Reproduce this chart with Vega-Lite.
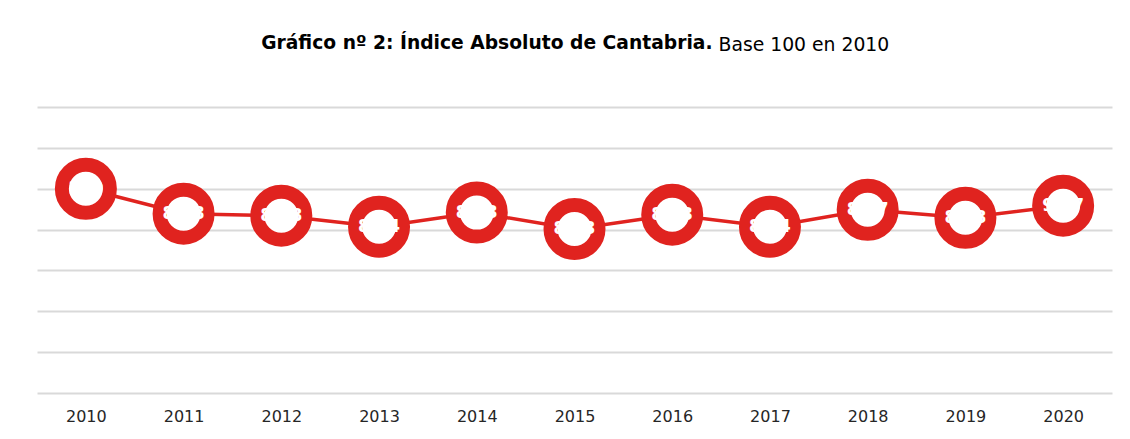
{
  "$schema": "https://vega.github.io/schema/vega-lite/v6.json",
  "width": 1075,
  "height": 286,
  "autosize": {"type": "none"},
  "padding": {"left": 37, "top": 107, "right": 18, "bottom": 46},
  "background": "white",
  "title": {
    "text": "Gráfico nº 2: Índice Absoluto de Cantabria.",
    "anchor": "middle",
    "align": "right",
    "dx": 138,
    "offset": -18,
    "font": "DejaVu Sans",
    "fontSize": 18.7,
    "fontWeight": "bold",
    "color": "#000000"
  },
  "config": {"view": {"stroke": null}},
  "data": {
    "values": [
      {"year": "2010", "value": 100.0},
      {"year": "2011", "value": 87.8},
      {"year": "2012", "value": 86.8},
      {"year": "2013", "value": 81.4},
      {"year": "2014", "value": 88.3},
      {"year": "2015", "value": 80.3},
      {"year": "2016", "value": 87.3},
      {"year": "2017", "value": 81.4},
      {"year": "2018", "value": 89.7},
      {"year": "2019", "value": 85.8},
      {"year": "2020", "value": 91.7}
    ]
  },
  "encoding": {
    "x": {
      "field": "year",
      "type": "ordinal",
      "scale": {"type": "point", "padding": 0.5},
      "axis": {
        "title": null,
        "domain": false,
        "ticks": false,
        "labelAngle": 0,
        "labelFont": "DejaVu Sans",
        "labelFontSize": 16,
        "labelColor": "#262626",
        "labelPadding": 15
      }
    },
    "y": {
      "field": "value",
      "type": "quantitative",
      "scale": {"domain": [0, 140], "nice": false, "zero": true},
      "axis": {
        "values": [0, 20, 40, 60, 80, 100, 120, 140],
        "grid": true,
        "gridColor": "#d9d9d9",
        "gridWidth": 2,
        "labels": false,
        "ticks": false,
        "domain": false,
        "title": "Base 100 en 2010",
        "titleAngle": 0,
        "titleX": 681,
        "titleY": -57,
        "titleAlign": "left",
        "titleBaseline": "alphabetic",
        "titleFont": "DejaVu Sans",
        "titleFontSize": 18.8,
        "titleFontWeight": "normal",
        "titleColor": "#000000"
      }
    }
  },
  "layer": [
    {"mark": {"type": "line", "color": "#E0231F", "strokeWidth": 3.5}},
    {
      "mark": {
        "type": "point",
        "shape": "circle",
        "filled": false,
        "fill": "white",
        "fillOpacity": 1,
        "stroke": "#E0231F",
        "strokeWidth": 14,
        "size": 2304,
        "opacity": 1
      }
    },
    {
      "mark": {
        "type": "text",
        "color": "white",
        "font": "DejaVu Sans",
        "fontSize": 17,
        "fontWeight": "bold"
      },
      "encoding": {"text": {"field": "value", "type": "quantitative", "format": ".3~r"}}
    }
  ]
}
